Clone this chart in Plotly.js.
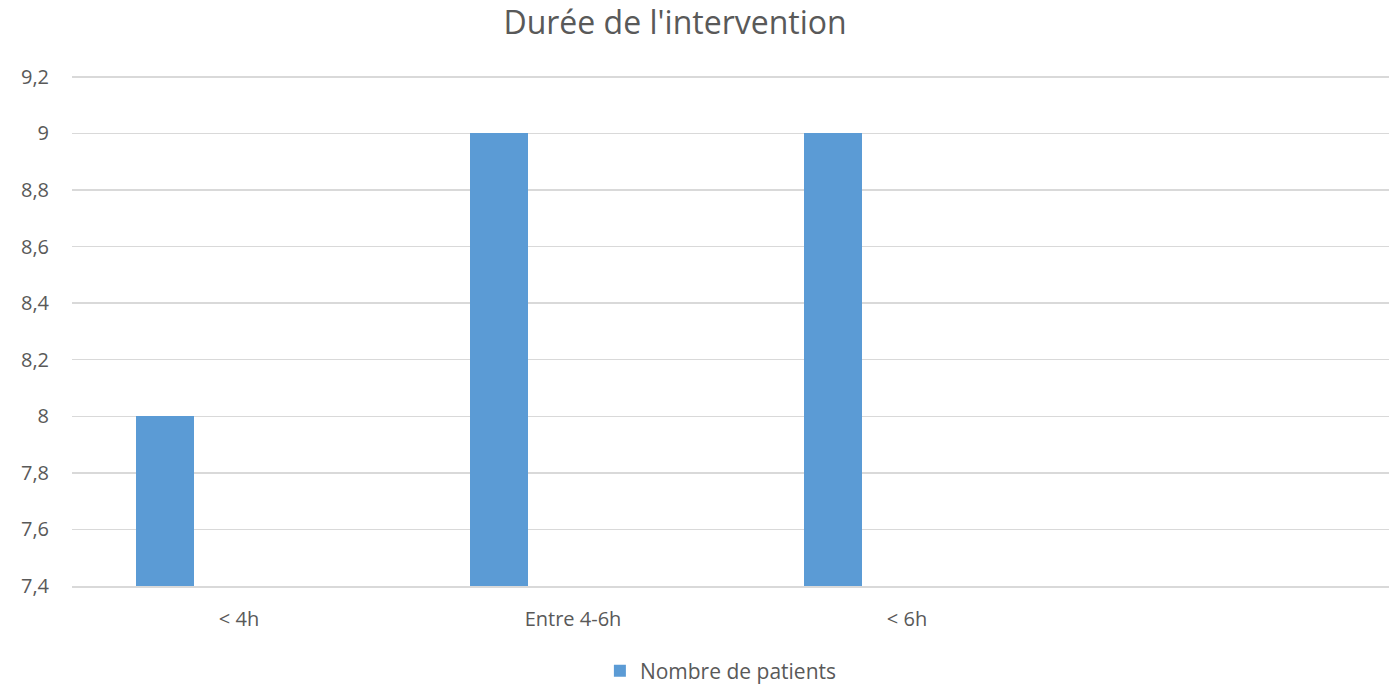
<!DOCTYPE html>
<html>
<head>
<meta charset="utf-8">
<script src="https://cdn.plot.ly/plotly-3.0.1.min.js"></script>
<style>html,body{margin:0;padding:0;background:#fff;}#chart{width:1389px;height:684px;}</style>
</head>
<body>
<div id="chart"></div>
<script>
const categories = ['< 4h', 'Entre 4-6h', '< 6h'];
const patients = [8, 9, 9];
const seriesName = 'Nombre de patients';
const chartTitle = "Durée de l'intervention";

const fontFam = 'Open Sans, Noto Sans, sans-serif';
const grey = '#595959';

Plotly.newPlot('chart', [{
  type: 'bar',
  x: categories,
  y: patients,
  name: seriesName,
  marker: {color: '#5B9BD5'},
  offset: -0.308,
  width: 0.174,
  showlegend: true
}], {
  width: 1389, height: 684,
  margin: {l: 72, r: 0, t: 74, b: 98, autoexpand: false},
  paper_bgcolor: '#fff', plot_bgcolor: '#fff',
  separators: ', ',
  title: {text: chartTitle, x: 0.486, xanchor: 'center', y: 0.967, yanchor: 'middle',
          font: {family: fontFam, size: 32, color: grey}},
  xaxis: {type: 'category', range: [-0.5, 3.443], showgrid: false, zeroline: false,
          showline: true, linecolor: '#d9d9d9', linewidth: 1.5,
          tickfont: {family: fontFam, size: 20, color: grey}, ticks: '', ticklabelstandoff: 14},
  yaxis: {range: [7.4, 9.21], dtick: 0.2, tick0: 7.4, showgrid: true, gridcolor: '#d9d9d9', gridwidth: 1.5,
          zeroline: false, showline: false, ticks: '',
          tickfont: {family: fontFam, size: 20, color: grey}, ticklabelstandoff: 22},
  legend: {orientation: 'h', x: 0.519, xanchor: 'center', xref: 'container', yref: 'container',
           y: 0.019, yanchor: 'middle', itemwidth: 30,
           font: {family: fontFam, size: 21, color: grey}},
  bargap: 0
}, {displayModeBar: false, staticPlot: true});
</script>
</body>
</html>
